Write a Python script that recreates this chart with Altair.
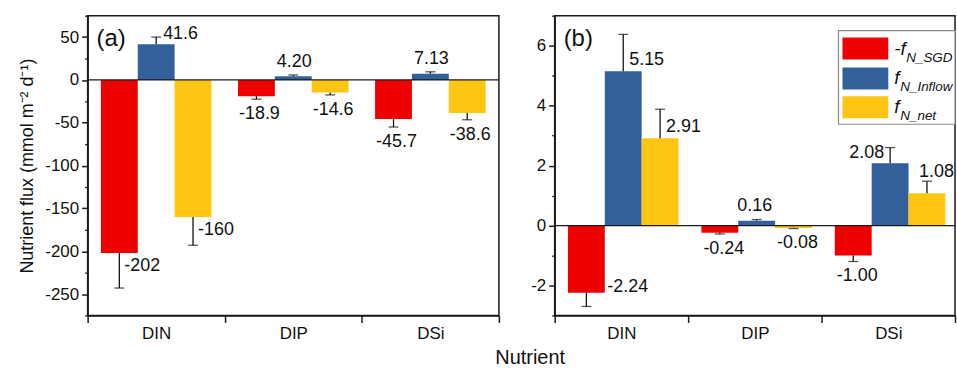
import altair as alt
import pandas as pd

FONT = "Liberation Sans"

nutrients = ["DIN", "DIP", "DSi"]
series = ["SGD", "Inflow", "net"]
colors = ["#EE0000", "#31609B", "#FFC513"]
legend_main = ["-f", "f", "f"]
legend_sub = ["N_SGD", "N_Inflow", "N_net"]
tags = ["(a)", "(b)"]
y_title = "Nutrient flux (mmol m\u207b\u00b2 d\u207b\u00b9)"
x_title = "Nutrient"

# panel (a) values and error-bar ends
a_sgd = [-202, -18.9, -45.7]
a_inflow = [41.6, 4.20, 7.13]
a_net = [-160, -14.6, -38.6]
a_sgd_err = [-243, -22.5, -55]
a_inflow_err = [50, 5.8, 9.5]
a_net_err = [-193, -17.5, -46.5]

# panel (b) values and error-bar ends
b_sgd = [-2.24, -0.24, -1.00]
b_inflow = [5.15, 0.16, 2.08]
b_net = [2.91, -0.08, 1.08]
b_sgd_err = [-2.70, -0.28, -1.20]
b_inflow_err = [6.38, 0.20, 2.60]
b_net_err = [3.88, -0.10, 1.48]

a_major = [50, 0, -50, -100, -150, -200, -250]
a_minor = [75, 25, -25, -75, -125, -175, -225, -275]
b_major = [6, 4, 2, 0, -2]
b_minor = [7, 5, 3, 1, -1, -3]


def make_df(vals, errs):
    rows = []
    for s, v, e in zip(series, vals, errs):
        for n, vi, ei in zip(nutrients, v, e):
            rows.append({"nutrient": n, "series": s, "value": vi, "err": ei})
    return pd.DataFrame(rows)


df_a = make_df([a_sgd, a_inflow, a_net], [a_sgd_err, a_inflow_err, a_net_err])
df_b = make_df([b_sgd, b_inflow, b_net], [b_sgd_err, b_inflow_err, b_net_err])

H = 301
AX = "#1a1a1a"


def panel(df, domain, major, minor, fmt, width, tag, ytitle, specs, legend=False):
    x = alt.X(
        "nutrient:N", sort=nutrients, title=None,
        scale=alt.Scale(paddingInner=0, paddingOuter=0),
        axis=alt.Axis(tickBand="extent", labelAngle=0, labelFontSize=17, labelFont=FONT,
                      tickSize=7, tickWidth=1.5, labelPadding=3, domainWidth=1.5,
                      domainColor=AX, tickColor=AX, labelColor="#111"),
    )
    xo = alt.XOffset("series:N", sort=series,
                     scale=alt.Scale(paddingInner=0, paddingOuter=0.36))

    def ys():
        return alt.Scale(domain=domain, nice=False, zero=False)

    major_axis = alt.Axis(values=major, orient="left", tickSize=6, tickWidth=1.5,
                          labelFontSize=17, labelFont=FONT, labelPadding=3,
                          domainWidth=1.5, domainColor=AX, tickColor=AX, labelColor="#111",
                          grid=False, title=ytitle, titleFontSize=18, titleFont=FONT,
                          titleFontWeight="normal", titlePadding=8, titleColor="#111")
    minor_axis = alt.Axis(values=minor, orient="left", tickSize=3, tickWidth=1.3,
                          tickColor=AX, labels=False, domain=False, grid=False, title=None)

    base = alt.Chart(df)
    bars = base.mark_bar().encode(
        x=x, xOffset=xo,
        y=alt.Y("value:Q", scale=ys(), axis=major_axis),
        y2=alt.Y2Datum(0),
        color=alt.Color("series:N", scale=alt.Scale(domain=series, range=colors), legend=None),
    )
    zero = alt.Chart(pd.DataFrame({"z": [0]})).mark_rule(color=AX, strokeWidth=1.3).encode(
        y=alt.YDatum(0, scale=ys(), axis=minor_axis)
    )
    errs = base.mark_rule(color="#111", strokeWidth=1.3).encode(
        x=x, xOffset=xo,
        y=alt.Y("value:Q", scale=ys(), axis=None), y2="err:Q",
    )
    caps = base.mark_tick(color="#111", size=10, thickness=1.3, orient="horizontal").encode(
        x=x, xOffset=xo,
        y=alt.Y("err:Q", scale=ys(), axis=None),
    )
    layers = [bars, zero, errs, caps]
    for expr, field, align, dx, dy in specs:
        layers.append(
            base.transform_filter(expr).mark_text(
                align=align, baseline="middle", dx=dx, dy=dy, fontSize=18, font=FONT, color="#111"
            ).encode(
                x=x, xOffset=xo,
                y=alt.Y(field + ":Q", scale=ys(), axis=None),
                text=alt.Text("value:Q", format=fmt),
            )
        )
    layers.append(
        alt.Chart(pd.DataFrame({"t": [tag]})).mark_text(
            align="left", baseline="middle", fontSize=24, font=FONT, color="#111"
        ).encode(x=alt.value(9), y=alt.value(23), text="t:N")
    )
    if legend:
        box = alt.Chart(pd.DataFrame({"z": [0]})).mark_rect(
            fill="white", stroke="#8a8a8a", strokeWidth=1.2
        ).encode(x=alt.value(285), x2=alt.value(width), y=alt.value(15), y2=alt.value(109))
        layers.append(box)
        centers = [33, 63, 92]
        sub_x = [353, 347, 347]
        for i in range(3):
            c = centers[i]
            d1 = pd.DataFrame({"z": [0]})
            layers.append(alt.Chart(d1).mark_rect(color=colors[i]).encode(
                x=alt.value(289), x2=alt.value(335), y=alt.value(c - 11), y2=alt.value(c + 11)))
            layers.append(alt.Chart(d1).mark_text(
                text=legend_main[i], align="left", baseline="alphabetic", fontSize=19,
                fontStyle="italic", font=FONT, color="#111"
            ).encode(x=alt.value(341), y=alt.value(c + 6)))
            layers.append(alt.Chart(d1).mark_text(
                text=legend_sub[i], align="left", baseline="alphabetic", fontSize=13.5,
                fontStyle="italic", font=FONT, color="#111",
                limit=width - sub_x[i], ellipsis="\u200b"
            ).encode(x=alt.value(sub_x[i]), y=alt.value(c + 13)))
    return alt.layer(*layers).resolve_scale(y="independent").properties(width=width, height=H)


specs_a = [
    ("datum.nutrient == 'DIN' && datum.value < 0", "value", "left", 5, 13),
    ("datum.nutrient == 'DIN' && datum.value > 0", "err", "left", 7, -3),
    ("datum.nutrient != 'DIN' && datum.value < 0", "err", "center", 3, 15),
    ("datum.nutrient != 'DIN' && datum.value > 0", "err", "center", 1, -13),
]
specs_b = [
    ("datum.nutrient == 'DIN' && datum.series == 'SGD'", "value", "left", 21, -6),
    ("datum.nutrient == 'DIN' && datum.series != 'SGD'", "value", "left", 6, -11),
    ("(datum.nutrient == 'DIP' || (datum.nutrient == 'DSi' && datum.series == 'SGD')) && datum.value < 0",
     "err", "center", 4, 15),
    ("datum.nutrient == 'DIP' && datum.value > 0", "err", "center", -2, -14),
    ("datum.nutrient == 'DSi' && datum.series == 'Inflow'", "err", "right", -6, 5),
    ("datum.nutrient == 'DSi' && datum.series == 'net'", "err", "left", -8, -9),
]

pa = panel(df_a, [-275, 75], a_major, a_minor, ".3r", 413, tags[0], y_title, specs_a)
pb = panel(df_b, [-3, 7], b_major, b_minor, ".2f", 402, tags[1], None, specs_b, legend=True)

chart = alt.hconcat(pa, pb, spacing=29).properties(
    title=alt.TitleParams(x_title, orient="bottom", anchor="middle", dx=43, fontSize=20,
                          font=FONT, fontWeight="normal", color="#111", offset=6),
    background="white",
).configure(
    padding={"left": 18, "top": 13, "right": 0, "bottom": 2},
    locale={"number": {"decimal": ".", "thousands": ",", "grouping": [3],
                       "currency": ["$", ""], "minus": "-"}},
).configure_view(stroke=AX, strokeWidth=1.5)

chart.save("out.html", embed_options={"renderer": "svg", "actions": False})
